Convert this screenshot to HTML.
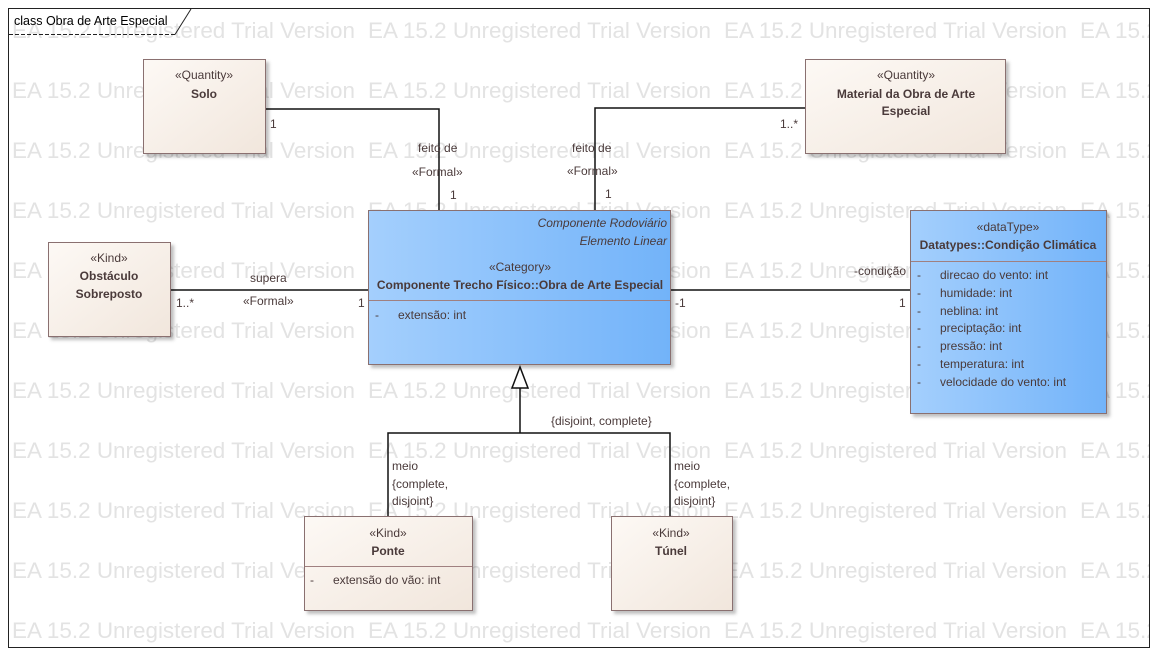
<!DOCTYPE html>
<html><head><meta charset="utf-8"><style>
html,body{margin:0;padding:0;background:#fff;}
svg{display:block;font-family:"Liberation Sans",sans-serif;}
.wm{font-size:22.5px;fill:#e3e3e3;}
.t{font-size:12px;fill:#4a3a3a;}
.b{font-weight:bold;}
</style></head><body>
<svg width="1159" height="655" viewBox="0 0 1159 655" xmlns="http://www.w3.org/2000/svg">
<defs>
<linearGradient id="beige" x1="0" y1="0" x2="1" y2="1"><stop offset="0" stop-color="#fdf9f5"/><stop offset="1" stop-color="#f1e6dc"/></linearGradient>
<linearGradient id="blue" x1="0" y1="0" x2="1" y2="0"><stop offset="0" stop-color="#a4cffd"/><stop offset="1" stop-color="#72b3f9"/></linearGradient>
<filter id="sh" x="-5%" y="-5%" width="115%" height="115%"><feDropShadow dx="3" dy="3" stdDeviation="1.5" flood-color="#000" flood-opacity="0.25"/></filter>
<g id="row">
<text x="12" textLength="343" lengthAdjust="spacingAndGlyphs">EA 15.2 Unregistered Trial Version</text>
<text x="368" textLength="343" lengthAdjust="spacingAndGlyphs">EA 15.2 Unregistered Trial Version</text>
<text x="724" textLength="343" lengthAdjust="spacingAndGlyphs">EA 15.2 Unregistered Trial Version</text>
<text x="1080">EA 15.2</text>
</g>
</defs>
<rect x="0" y="0" width="1159" height="655" fill="#fff"/>
<g class="wm">
<use href="#row" y="38"/><use href="#row" y="98"/><use href="#row" y="158"/><use href="#row" y="218"/>
<use href="#row" y="278"/><use href="#row" y="338"/><use href="#row" y="398"/><use href="#row" y="458"/>
<use href="#row" y="518"/><use href="#row" y="578"/><use href="#row" y="638"/>
</g>
<rect x="0" y="648" width="1159" height="7" fill="#fff"/>
<rect x="1150" y="0" width="9" height="655" fill="#fff"/>
<!-- frame -->
<rect x="8.5" y="8.5" width="1141" height="639" fill="none" stroke="#222"/>
<path d="M9 34.5 H175" fill="none" stroke="#222" stroke-dasharray="4,2"/>
<path d="M175 34.5 L191 9" fill="none" stroke="#222"/>
<text x="14" y="25" style="font-size:12.5px;fill:#000">class Obra de Arte Especial</text>

<g stroke="#111" stroke-width="1.5" fill="none">
<path d="M266 109 H439 V210"/>
<path d="M805 108 H595 V210"/>
<path d="M170 290 H368"/>
<path d="M670 290 H910"/>
<path d="M520 388 V433 M388 516 V433 H670 V516"/>
</g>
<polygon points="520,367 512,388 528,388" fill="#fff" stroke="#111" stroke-width="1.5"/>

<g class="t">
<text x="270" y="128">1</text>
<text x="418" y="152">feito de</text>
<text x="412" y="176">«Formal»</text>
<text x="450" y="199">1</text>
<text x="780" y="128">1..*</text>
<text x="572" y="152">feito de</text>
<text x="567" y="175">«Formal»</text>
<text x="605" y="198">1</text>
<text x="250" y="282">supera</text>
<text x="243" y="305">«Formal»</text>
<text x="176" y="307">1..*</text>
<text x="358" y="307">1</text>
<text x="675" y="307">-1</text>
<text x="854" y="275">-condição</text>
<text x="899" y="307">1</text>
<text x="551" y="425">{disjoint, complete}</text>
<text x="392" y="470">meio</text>
<text x="392" y="488">{complete,</text>
<text x="392" y="505">disjoint}</text>
<text x="674" y="470">meio</text>
<text x="674" y="488">{complete,</text>
<text x="674" y="505">disjoint}</text>
</g>

<rect x="143.5" y="59.5" width="122" height="94" fill="url(#beige)" stroke="#8a7070" filter="url(#sh)"/>
<text class="t" x="204" y="79" text-anchor="middle">«Quantity»</text>
<text class="t b" x="204" y="98" text-anchor="middle">Solo</text>

<rect x="805.5" y="59.5" width="200" height="94" fill="url(#beige)" stroke="#8a7070" filter="url(#sh)"/>
<text class="t" x="906" y="79" text-anchor="middle">«Quantity»</text>
<text class="t b" x="906" y="98" text-anchor="middle">Material da Obra de Arte</text>
<text class="t b" x="906" y="115" text-anchor="middle">Especial</text>

<rect x="48.5" y="242.5" width="122" height="94" fill="url(#beige)" stroke="#8a7070" filter="url(#sh)"/>
<text class="t" x="109" y="262" text-anchor="middle">«Kind»</text>
<text class="t b" x="109" y="280" text-anchor="middle">Obstáculo</text>
<text class="t b" x="109" y="298" text-anchor="middle">Sobreposto</text>

<rect x="368.5" y="210.5" width="302" height="154" fill="url(#blue)" stroke="#8a7070" filter="url(#sh)"/>
<line x1="369" y1="300.5" x2="670" y2="300.5" stroke="#a08080"/>
<text class="t" x="667" y="227" text-anchor="end" font-style="italic">Componente Rodoviário</text>
<text class="t" x="667" y="245" text-anchor="end" font-style="italic">Elemento Linear</text>
<text class="t" x="520" y="271" text-anchor="middle">«Category»</text>
<text class="t b" x="520" y="289" text-anchor="middle">Componente Trecho Físico::Obra de Arte Especial</text>
<text class="t" x="375" y="319">-</text>
<text class="t" x="398" y="319">extensão: int</text>

<rect x="910.5" y="210.5" width="196" height="203" fill="url(#blue)" stroke="#8a7070" filter="url(#sh)"/>
<line x1="911" y1="261.5" x2="1106" y2="261.5" stroke="#a08080"/>
<text class="t" x="1008" y="231" text-anchor="middle">«dataType»</text>
<text class="t b" x="1008" y="249" text-anchor="middle">Datatypes::Condição Climática</text>
<g class="t">
<text x="917" y="279">-</text><text x="940" y="279">direcao do vento: int</text>
<text x="917" y="297">-</text><text x="940" y="297">humidade: int</text>
<text x="917" y="315">-</text><text x="940" y="315">neblina: int</text>
<text x="917" y="332">-</text><text x="940" y="332">preciptação: int</text>
<text x="917" y="350">-</text><text x="940" y="350">pressão: int</text>
<text x="917" y="368">-</text><text x="940" y="368">temperatura: int</text>
<text x="917" y="386">-</text><text x="940" y="386">velocidade do vento: int</text>
</g>

<rect x="304.5" y="516.5" width="168" height="94" fill="url(#beige)" stroke="#8a7070" filter="url(#sh)"/>
<line x1="305" y1="566.5" x2="472" y2="566.5" stroke="#a08080"/>
<text class="t" x="388" y="537" text-anchor="middle">«Kind»</text>
<text class="t b" x="388" y="555" text-anchor="middle">Ponte</text>
<text class="t" x="310" y="584">-</text>
<text class="t" x="333" y="584">extensão do vão: int</text>

<rect x="611.5" y="516.5" width="121" height="94" fill="url(#beige)" stroke="#8a7070" filter="url(#sh)"/>
<text class="t" x="671" y="537" text-anchor="middle">«Kind»</text>
<text class="t b" x="671" y="555" text-anchor="middle">Túnel</text>
</svg>
</body></html>
